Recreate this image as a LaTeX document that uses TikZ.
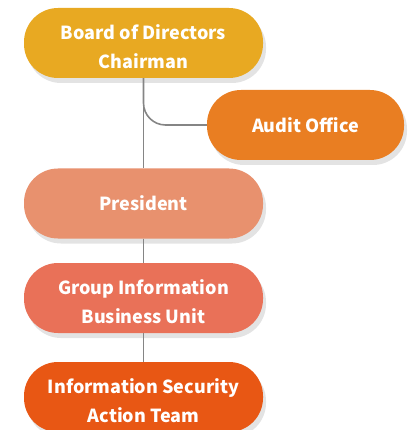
\documentclass[tikz,border=0pt]{standalone}
\usepackage{fontspec}
\setmainfont{Noto Sans CJK SC}
\usetikzlibrary{shadows}
\definecolor{cBoard}{HTML}{E8A922}
\definecolor{cAudit}{HTML}{E97E22}
\definecolor{cPres}{HTML}{E8916E}
\definecolor{cGroup}{HTML}{E97158}
\definecolor{cSec}{HTML}{E85714}
\definecolor{cLine}{HTML}{858585}
\newcommand\twolines[2]{\raisebox{-5pt}[\height][\depth]{\begin{tabular}{@{}c@{}}#1\\#2\end{tabular}}}
\tikzset{
  orgbox/.style={rounded corners=34pt, minimum width=239pt, minimum height=70pt,
    inner sep=0pt, text=white, font=\fontsize{18}{29}\selectfont\bfseries,
    align=center,
    drop shadow={opacity=0.22, shadow xshift=3pt, shadow yshift=-5pt}},
  link/.style={draw=cLine, line width=1.6pt}
}
\begin{document}
\begin{tikzpicture}[x=1pt,y=1pt]
\useasboundingbox (0,0) rectangle (414,-430);
\node[orgbox, fill=cBoard] (board) at (143.5,-43) {\twolines{Board of Directors}{Chairman}};
\node[orgbox, fill=cAudit, minimum width=197pt] (audit) at (305.5,-125) {Audit Office};
\node[orgbox, fill=cPres] (pres) at (143.5,-203.5) {President};
\node[orgbox, fill=cGroup] (group) at (143.5,-298) {\twolines{Group Information}{Business Unit}};
\node[orgbox, fill=cSec] (sec) at (143.5,-397) {\twolines{Information Security}{Action Team}};
\draw[link, rounded corners=22pt] (board.south) |- (audit.west);
\draw[link] (board.south) -- (pres.north);
\draw[link] (pres.south) -- (group.north);
\draw[link] (group.south) -- (sec.north);
\end{tikzpicture}
\end{document}
